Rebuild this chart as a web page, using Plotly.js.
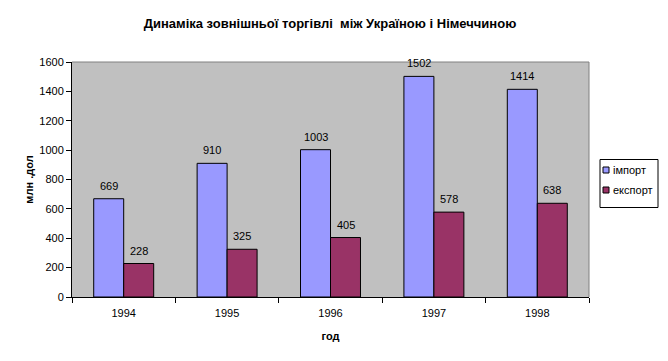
<!DOCTYPE html>
<html>
<head>
<meta charset="utf-8">
<script src="https://cdn.plot.ly/plotly-3.0.1.min.js"></script>
<style>html,body{margin:0;padding:0;background:#fff;}#chart{width:668px;height:361px;}</style>
</head>
<body>
<div id="chart"></div>
<script>
const years = ['1994', '1995', '1996', '1997', '1998'];
const importValues = [669, 910, 1003, 1502, 1414];
const exportValues = [228, 325, 405, 578, 638];
const seriesNames = ['імпорт', 'експорт'];
const seriesColors = ['#9999ff', '#993366'];
const yTicks = [0, 200, 400, 600, 800, 1000, 1200, 1400, 1600];

const font = 'Arial, "Liberation Sans", sans-serif';
const W = 668, H = 361;
const M = {l: 72, r: 79, t: 62, b: 64};
const PW = W - M.l - M.r, PH = H - M.t - M.b;
const px = v => (v - M.l) / PW;
const py = v => (H - M.b - v) / PH;

const traces = [importValues, exportValues].map((vals, i) => ({
  type: 'bar', name: seriesNames[i], x: years, y: vals,
  marker: {color: seriesColors[i], line: {color: '#000', width: 1}},
  showlegend: false, hoverinfo: 'none'
}));

// value labels above bars (x = category index)
const annotations = [];
[importValues, exportValues].forEach((vals, i) => {
  vals.forEach((v, k) => {
    annotations.push({
      x: k, y: v, xref: 'x', yref: 'y', text: String(v), showarrow: false,
      xshift: i === 0 ? -15 : 15, yshift: 13, yanchor: 'middle',
      font: {family: font, size: 11, color: '#000'}
    });
  });
});

// legend (drawn by hand for compact Excel-like box)
const shapes = [
  {type: 'line', xref: 'paper', yref: 'paper', x0: 0, x1: 1, y0: 1, y1: 1, line: {color: '#808080', width: 1}},
  {type: 'line', xref: 'paper', yref: 'paper', x0: 1, x1: 1, y0: 0, y1: 1, line: {color: '#808080', width: 1}},
  {type: 'rect', xref: 'paper', yref: 'paper', x0: px(600), x1: px(658), y0: py(159.5), y1: py(207.5),
   fillcolor: '#fff', line: {color: '#000', width: 1}}
];
const legendRows = [170, 190];
seriesNames.forEach((name, i) => {
  const cy = legendRows[i];
  shapes.push({type: 'rect', xref: 'paper', yref: 'paper', x0: px(603), x1: px(609), y0: py(cy - 3), y1: py(cy + 3),
    fillcolor: seriesColors[i], line: {color: '#000', width: 1}});
  annotations.push({xref: 'paper', yref: 'paper', x: px(611), y: py(cy), xanchor: 'left', yanchor: 'middle',
    text: name, showarrow: false, font: {family: font, size: 11, color: '#000'}});
});

const layout = {
  width: W, height: H,
  margin: M,
  paper_bgcolor: '#fff', plot_bgcolor: '#c0c0c0',
  font: {family: font, size: 11, color: '#000'},
  barmode: 'group', bargap: 0.42, bargroupgap: 0,
  showlegend: false,
  title: {text: '<b>Динаміка зовнішньої торгівлі  між Україною і Німеччиною</b>',
    font: {family: font, size: 13, color: '#000'}, x: 0.494, xanchor: 'center', y: 0.935, yanchor: 'middle'},
  xaxis: {
    type: 'category', range: [-0.5, years.length - 0.5], tickson: 'boundaries', ticks: 'outside', ticklen: 5, tickcolor: '#000',
    showline: true, linecolor: '#000', linewidth: 1, showgrid: false, zeroline: false,
    tickfont: {family: font, size: 11}, ticklabelstandoff: 6,
    title: {text: '<b>год</b>', font: {family: font, size: 11}, standoff: 14}
  },
  yaxis: {
    range: [0, 1600], tickvals: yTicks, ticktext: yTicks.map(String),
    ticks: 'outside', ticklen: 5, tickcolor: '#000',
    showline: true, linecolor: '#000', linewidth: 1, showgrid: false, zeroline: false,
    tickfont: {family: font, size: 11},
    title: {text: '<b>млн .дол</b>', font: {family: font, size: 11}, standoff: 3}
  },
  annotations: annotations,
  shapes: shapes
};
Plotly.newPlot('chart', traces, layout, {displayModeBar: false, staticPlot: true});
</script>
</body>
</html>
